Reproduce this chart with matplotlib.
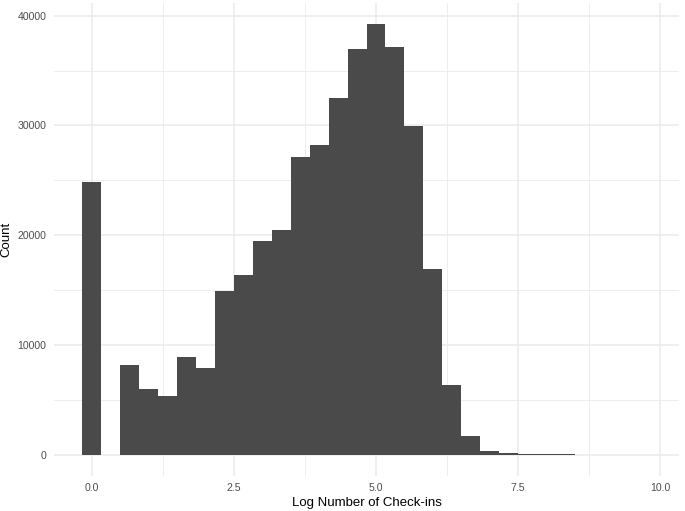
import numpy as np
import matplotlib
matplotlib.use("Agg")
import matplotlib.pyplot as plt
from matplotlib.ticker import MultipleLocator

plt.rcParams['font.family'] = ['Liberation Sans', 'DejaVu Sans']

# histogram of log check-ins, 30 bins of width 1/3
bin_width = 1 / 3
bin_centers = [0.0, 0.333, 0.667, 1.0, 1.333, 1.667, 2.0, 2.333, 2.667, 3.0,
               3.333, 3.667, 4.0, 4.333, 4.667, 5.0, 5.333, 5.667, 6.0, 6.333,
               6.667, 7.0, 7.333, 7.667, 8.0, 8.333, 8.667, 9.0, 9.333, 9.667]
counts = [24850, 0, 8150, 5970, 5330, 8880, 7910, 14880, 16360, 19450,
          20480, 27120, 28180, 32520, 37000, 39210, 37120, 29940, 16940, 6330,
          1700, 290, 110, 35, 15, 8, 0, 0, 0, 0]

fig = plt.figure(figsize=(6.85, 5.11), dpi=100)
ax = fig.add_axes([54 / 685, 35 / 511, 625 / 685, 473 / 511])

ax.bar(bin_centers, counts, width=bin_width, color='#4a4a4a', linewidth=0, zorder=3)

ax.set_xlim(-0.667, 10.333)
ax.set_ylim(-1960, 41170)
ax.xaxis.set_major_locator(MultipleLocator(2.5))
ax.xaxis.set_minor_locator(MultipleLocator(1.25))
ax.yaxis.set_major_locator(MultipleLocator(10000))
ax.yaxis.set_minor_locator(MultipleLocator(5000))
ax.xaxis.set_major_formatter(lambda v, p: f'{v:.1f}')
ax.yaxis.set_major_formatter(lambda v, p: f'{int(v)}')

ax.grid(which='major', color='#ebebeb', lw=1.1, zorder=0)
ax.grid(which='minor', color='#ebebeb', lw=0.6, zorder=0)
for s in ax.spines.values():
    s.set_visible(False)
ax.tick_params(which='both', length=0, labelsize=7.6, labelcolor='#4d4d4d')
ax.tick_params(axis='x', pad=5)
ax.tick_params(axis='y', pad=5.5)

ax.set_xlabel('Log Number of Check-ins', fontsize=9.5, labelpad=3)
ax.set_ylabel('Count', fontsize=9.5, labelpad=4)

fig.savefig('out.png', dpi=100)
